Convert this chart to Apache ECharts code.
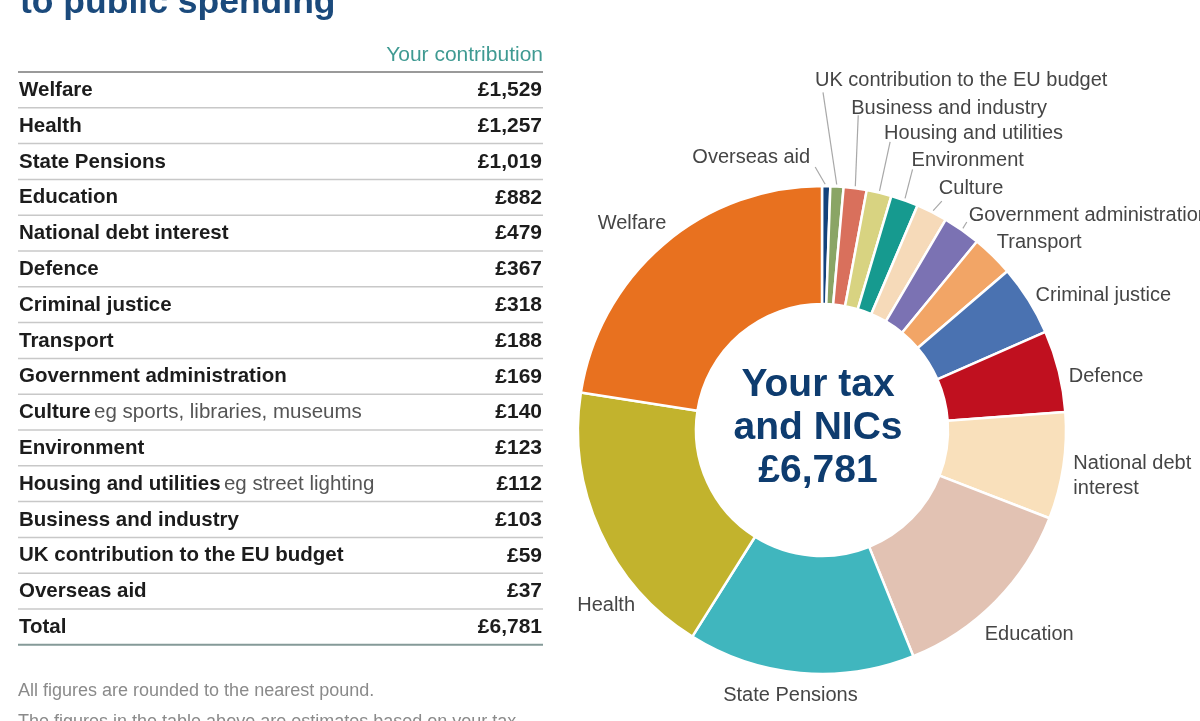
<!DOCTYPE html>
<html>
<head>
<meta charset="utf-8">
<script src="https://cdn.jsdelivr.net/npm/echarts/dist/echarts.min.js"></script>
<style>
html,body{margin:0;padding:0;background:#ffffff;}
#chart{width:1200px;height:721px;}
</style>
</head>
<body>
<div id="chart"></div>
<script>
// ---------- DATA ----------
const categories = ['Welfare', 'Health', 'State Pensions', 'Education', 'National debt interest',
  'Defence', 'Criminal justice', 'Transport', 'Government administration', 'Culture',
  'Environment', 'Housing and utilities', 'Business and industry',
  'UK contribution to the EU budget', 'Overseas aid'];
const values = [1529, 1257, 1019, 882, 479, 367, 318, 188, 169, 140, 123, 112, 103, 59, 37];
const categoryNotes = {
  'Culture': 'eg sports, libraries, museums',
  'Housing and utilities': 'eg street lighting'
};
const totalValue = 6781;
const titleText = 'to public spending';
const columnHeader = 'Your contribution';
const totalLabel = 'Total';
const centreLines = ['Your tax', 'and NICs'];
const footnotes = ['All figures are rounded to the nearest pound.',
  'The figures in the table above are estimates based on your tax'];

// ---------- STYLES ----------
const sliceColors = {
  'Overseas aid': '#14437c',
  'UK contribution to the EU budget': '#8aa565',
  'Business and industry': '#d9705c',
  'Housing and utilities': '#d8d381',
  'Environment': '#169a8f',
  'Culture': '#f6dab9',
  'Government administration': '#7b72b3',
  'Transport': '#f2a566',
  'Criminal justice': '#4a72b1',
  'Defence': '#c0101f',
  'National debt interest': '#f9e0bb',
  'Education': '#e2c2b3',
  'State Pensions': '#40b6be',
  'Health': '#c2b32d',
  'Welfare': '#e8711f'
};
// label placement relative to the slice's outer mid point (from the library)
const labelPlacement = {
  'Overseas aid': {align: 'right', dx: -16, dy: -29, line: [-11, -19]},
  'UK contribution to the EU budget': {align: 'left', dx: -22, dy: -106, line: [-14, -94]},
  'Business and industry': {align: 'left', dx: -4, dy: -80, line: [3, -73]},
  'Housing and utilities': {align: 'left', dx: 5, dy: -59, line: [11, -51]},
  'Environment': {align: 'left', dx: 7, dy: -40, line: [8, -31]},
  'Culture': {align: 'left', dx: 7, dy: -24, line: [10, -11]},
  'Government administration': {align: 'left', dx: 7, dy: -15, line: [5, -8]},
  'Transport': {align: 'left', dx: 4, dy: -13},
  'Criminal justice': {align: 'left', dx: 7, dy: -5},
  'Defence': {align: 'left', dx: 10, dy: 5},
  'National debt interest': {align: 'left', dx: 10, dy: 10, text: 'National debt\ninterest'},
  'Education': {align: 'left', dx: -11, dy: 33},
  'State Pensions': {align: 'center', dx: -10, dy: 22},
  'Health': {align: 'right', dx: 35, dy: 74},
  'Welfare': {align: 'right', dx: 3, dy: -21}
};

const FONT = '"Liberation Sans", Arial, Helvetica, sans-serif';
function money(v) {
  return '£' + String(v).replace(/\B(?=(\d{3})+(?!\d))/g, ',');
}

// ---------- PIE DATA (clockwise from top: smallest first) ----------
const pieNames = categories.slice().reverse();
const pieValues = values.slice().reverse();
const pieData = pieNames.map(function (n, i) {
  const pl = labelPlacement[n];
  return {
    name: n,
    value: pieValues[i],
    itemStyle: {color: sliceColors[n]},
    label: {formatter: pl.text || n}
  };
});

// ---------- TABLE GRAPHICS ----------
const tableLeft = 18, tableRight = 543, tableTop = 72, rowH = 35.8;
const graphics = [];
graphics.push({
  type: 'text', left: 20, top: -15,
  style: {text: titleText, font: 'bold 35.5px ' + FONT, fill: '#1b4a7c'}
});
graphics.push({
  type: 'text', x: tableRight, y: 55,
  style: {text: columnHeader, font: '21px ' + FONT, fill: '#3f9a92', align: 'right', verticalAlign: 'middle'}
});
const rowLabels = categories.concat([totalLabel]);
const rowValues = values.map(money).concat([money(totalValue)]);
rowLabels.forEach(function (lab, i) {
  const cy = tableTop + rowH * i + rowH / 2 + 0.5;
  const note = categoryNotes[lab];
  graphics.push({
    type: 'text', x: tableLeft + 1, y: cy,
    style: {
      text: note ? '{b|' + lab + '} {n|' + note + '}' : '{b|' + lab + '}',
      verticalAlign: 'middle', align: 'left',
      rich: {
        b: {font: 'bold 20.5px ' + FONT, fill: '#1c1c1c'},
        n: {font: '20.5px ' + FONT, fill: '#555555'}
      }
    }
  });
  graphics.push({
    type: 'text', x: tableRight - 1, y: cy,
    style: {text: rowValues[i], font: 'bold 21px ' + FONT, fill: '#1c1c1c', align: 'right', verticalAlign: 'middle'}
  });
});
for (let k = 0; k <= rowLabels.length; k++) {
  const y = tableTop + rowH * k;
  let stroke = '#c8c8c8', w = 1.5;
  if (k === 0) { stroke = '#9a9a9a'; w = 2; }
  if (k === rowLabels.length) { stroke = '#859a98'; w = 2; }
  graphics.push({
    type: 'line', shape: {x1: tableLeft, y1: y, x2: tableRight, y2: y},
    style: {stroke: stroke, lineWidth: w}
  });
}
graphics.push({
  type: 'text', x: tableLeft, y: 691,
  style: {text: footnotes[0], font: '18px ' + FONT, fill: '#8a8a8a', verticalAlign: 'middle'}
});
graphics.push({
  type: 'text', x: tableLeft, y: 713,
  style: {text: footnotes[1], font: '18px ' + FONT, fill: '#8a8a8a', verticalAlign: 'top'}
});
// centre text of donut
graphics.push({
  type: 'text', x: 818, y: 428, z: 100,
  style: {
    text: centreLines.concat([money(totalValue)]).join('\n'),
    font: 'bold 39px ' + FONT, fill: '#0e3c6f', align: 'center', verticalAlign: 'middle', lineHeight: 43
  }
});

const chart = echarts.init(document.getElementById('chart'), null, {renderer: 'canvas'});
chart.setOption({
  animation: false,
  backgroundColor: '#ffffff',
  graphic: graphics,
  series: [{
    type: 'pie',
    center: [822, 430],
    radius: [126, 244],
    startAngle: 90,
    clockwise: true,
    avoidLabelOverlap: false,
    emphasis: {disabled: true},
    itemStyle: {borderColor: '#ffffff', borderWidth: 2.5},
    label: {
      show: true, position: 'outside',
      fontFamily: FONT, fontSize: 20, color: '#454545', lineHeight: 25
    },
    labelLine: {show: true, length: 10, length2: 0, lineStyle: {color: '#a8a8a8', width: 1.2}},
    labelLayout: function (p) {
      const name = pieNames[p.dataIndex];
      const pl = labelPlacement[name];
      const pts = p.labelLinePoints;
      if (!pl || !pts) { return {}; }
      const x0 = pts[0][0], y0 = pts[0][1];
      const out = {x: x0 + pl.dx, y: y0 + pl.dy, align: pl.align, verticalAlign: 'middle'};
      if (pl.line) {
        const ex = x0 + pl.line[0], ey = y0 + pl.line[1];
        const len = Math.sqrt(pl.line[0] * pl.line[0] + pl.line[1] * pl.line[1]);
        const sx = x0 + pl.line[0] / len * 2, sy = y0 + pl.line[1] / len * 2;
        out.labelLinePoints = [[sx, sy], [ex, ey], [ex, ey]];
      } else {
        out.labelLinePoints = [[x0, y0], [x0, y0], [x0, y0]];
      }
      return out;
    },
    data: pieData
  }]
});
</script>
</body>
</html>
